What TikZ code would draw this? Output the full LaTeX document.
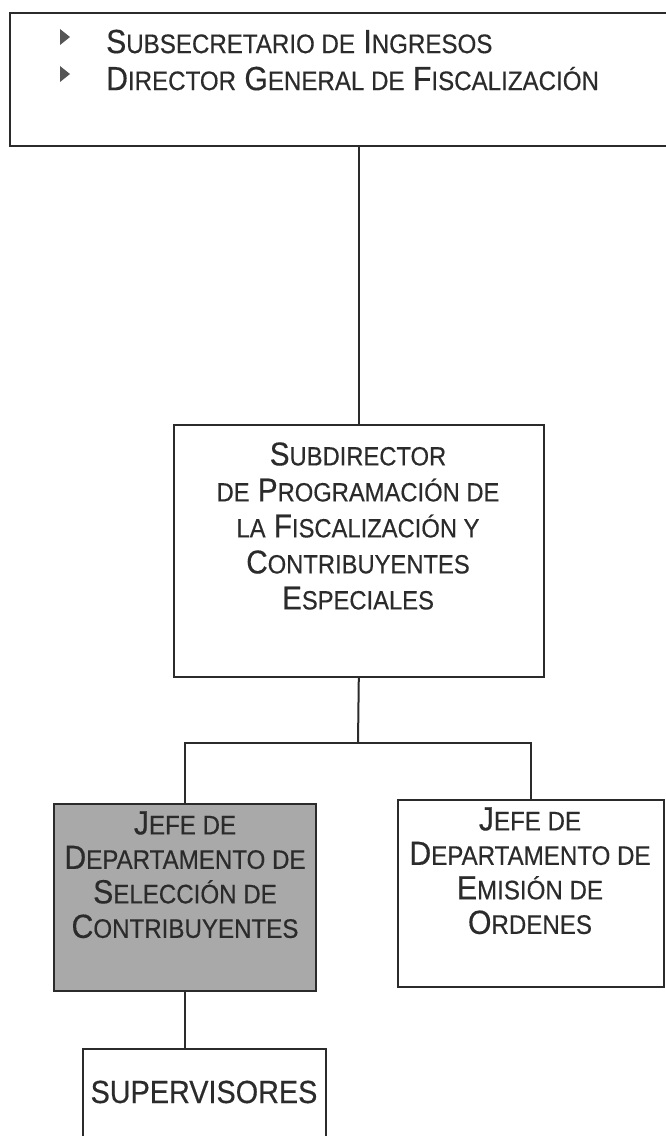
\documentclass[tikz,border=0pt]{standalone}
\usepackage{fontspec}
\setmainfont{Liberation Sans}[FakeStretch=0.9, FakeBold=0.4]
\usepackage{graphicx}

\definecolor{ink}{HTML}{2B2B2B}
\definecolor{screen}{HTML}{A9A9A9}
\definecolor{tip}{HTML}{555555}
\newcommand{\sm}[1]{\scalebox{0.8}{#1}}

\begin{document}
\begin{tikzpicture}[x=1pt, y=-1pt,
  box/.style={draw=ink, line width=1.6pt, inner sep=0pt, anchor=north west},
  txt/.style={text=ink, inner sep=0pt, align=center, anchor=north},
  link/.style={draw=ink, line width=2pt}]
\useasboundingbox (0,0) rectangle (666,1136);
\clip (0,0) rectangle (666,1136);

\node [box, minimum width=680pt, minimum height=133pt] (dir) at (9,12) {};
\node [box, minimum width=370pt, minimum height=252pt] (sub) at (173,424) {};
\node [box, fill=screen, minimum width=262pt, minimum height=187pt] (sel) at (53,803) {};
\node [box, minimum width=266pt, minimum height=187pt] (emi) at (397,799) {};
\node [box, minimum width=243pt, minimum height=120pt] (sup) at (82,1048) {};

\fill [tip] (60,29) -- (70,37) -- (60,45) -- cycle;
\fill [tip] (60,66) -- (70,74) -- (60,82) -- cycle;

\node [txt, anchor=north west, align=left, font=\fontsize{33.5}{37}\selectfont] (dirtxt) at (106,27)
  {\strut S\sm{UBSECRETARIO DE} I\sm{NGRESOS}\\
   D\sm{IRECTOR} G\sm{ENERAL DE} F\sm{ISCALIZACIÓN}};

\node [txt, font=\fontsize{33}{36}\selectfont] (subtxt) at (358,440)
  {\strut S\sm{UBDIRECTOR}\\
   \sm{DE} P\sm{ROGRAMACIÓN DE}\\
   \sm{LA} F\sm{ISCALIZACIÓN Y}\\
   C\sm{ONTRIBUYENTES}\\
   E\sm{SPECIALES}};

\node [txt, font=\fontsize{33.5}{34.5}\selectfont] (seltxt) at (185,810)
  {\strut J\sm{EFE DE}\\
   D\sm{EPARTAMENTO DE}\\
   S\sm{ELECCIÓN DE}\\
   C\sm{ONTRIBUYENTES}};

\node [txt, font=\fontsize{33.5}{34.5}\selectfont] (emitxt) at (530,806)
  {\strut J\sm{EFE DE}\\
   D\sm{EPARTAMENTO DE}\\
   E\sm{MISIÓN DE}\\
   O\sm{RDENES}};

\node [txt, font=\fontsize{32}{34}\selectfont] (suptxt) at (204,1079) {\strut SUPERVISORES};

\coordinate (fork) at (358,743);
\draw [link] (dir.south -| sub.north) -- (sub.north);
\draw [link] (sub.south) -- (fork);
\draw [link] (sel.north) |- (fork) -| (emi.north);
\draw [link] (sel.south) -- (sel.south |- sup.north);

\end{tikzpicture}
\end{document}
